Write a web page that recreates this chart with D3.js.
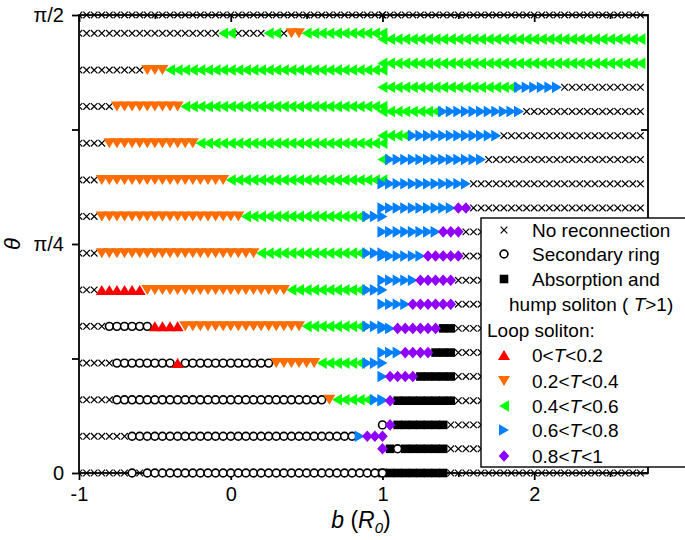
<!DOCTYPE html>
<html><head><meta charset="utf-8">
<script src="https://cdn.jsdelivr.net/npm/d3@7"></script>
<style>body{margin:0;background:#fff}svg{font-family:"Liberation Sans",Arial,sans-serif}</style>
</head><body><svg id="c" width="685" height="540"></svg>
<script>
// ---------------- data ----------------
const xTicks = [-1, 0, 1, 2];
const xMinorTicks = [-0.5, 0.5, 1.5, 2.5];
const yTicks = [0, Math.PI / 8, Math.PI / 4, 3 * Math.PI / 8, Math.PI / 2];
const yTickLabels = ["0", "", "π/4", "", "π/2"];

// codes: x no reconnection, o secondary ring, s absorption/hump (T>1),
// u 0<T<0.2, d 0.2<T<0.4, l 0.4<T<0.6, r 0.6<T<0.8, p 0.8<T<1
// scan 1: b = -1 ... 1 (step 0.05)
const leftScan = { start: -1, step: 0.05 };
const leftTheta = [0, 0.126, 0.251, 0.377, 0.503, 0.628, 0.754, 0.880, 1.005, 1.131, 1.257, 1.382, 1.508, 1.571];
const leftRuns = [
  [["x", 7], ["o", 1], ["x", 1], ["o", 32]],
  [["x", 7], ["o", 30], ["r", 1], ["p", 3]],
  [["x", 5], ["o", 28], ["d", 1], ["l", 5], ["r", 2]],
  [["x", 5], ["o", 8], ["u", 1], ["o", 12], ["d", 6], ["l", 6], ["r", 3]],
  [["x", 4], ["o", 6], ["u", 4], ["d", 16], ["l", 8], ["r", 3]],
  [["x", 3], ["u", 6], ["d", 19], ["l", 10], ["r", 3]],
  [["x", 3], ["d", 21], ["l", 14], ["r", 3]],
  [["x", 3], ["d", 19], ["l", 16], ["r", 3]],
  [["x", 3], ["d", 17], ["l", 21]],
  [["x", 4], ["d", 12], ["l", 25]],
  [["x", 5], ["d", 9], ["l", 27]],
  [["x", 9], ["d", 3], ["l", 29]],
  [["x", 19], ["l", 2], ["x", 4], ["l", 2], ["x", 1], ["d", 2], ["l", 11]],
  [["x", 41]]
];
// scan 2: b = 1 ... 2.7 (step 0.05)
const rightScan = { start: 1.0, step: 0.05 };
const rightTheta = [0, 0.083, 0.165, 0.248, 0.331, 0.413, 0.496, 0.579, 0.661, 0.744, 0.827, 0.909, 0.992, 1.075, 1.157, 1.240, 1.323, 1.405, 1.488, 1.571];
const rightRuns = [
  [["s", 9], ["x", 26]],
  [["p", 1], ["s", 1], ["o", 1], ["s", 6], ["x", 26]],
  [["o", 1], ["p", 1], ["s", 7], ["x", 26]],
  [["r", 1], ["p", 1], ["s", 8], ["x", 25]],
  [["r", 1], ["p", 4], ["s", 5], ["x", 25]],
  [["r", 3], ["p", 4], ["s", 3], ["x", 25]],
  [["r", 2], ["p", 6], ["s", 2], ["x", 25]],
  [["r", 4], ["p", 6], ["x", 25]],
  [["r", 5], ["p", 5], ["x", 25]],
  [["r", 6], ["p", 5], ["x", 24]],
  [["r", 8], ["p", 3], ["x", 24]],
  [["r", 10], ["p", 2], ["x", 23]],
  [["r", 12], ["x", 23]],
  [["l", 1], ["r", 13], ["x", 21]],
  [["l", 4], ["r", 12], ["x", 19]],
  [["l", 8], ["r", 11], ["x", 16]],
  [["l", 18], ["r", 6], ["x", 11]],
  [["l", 35]],
  [["l", 35]],
  [["x", 35]]
];

const legendItems = [
  { code: "x", text: ["No reconnection"] },
  { code: "o", text: ["Secondary ring"] },
  { code: "s", text: ["Absorption and"] },
  { code: null, text: ["hump soliton ( ", "T", ">1)"] },
  { code: null, text: ["Loop soliton:"] },
  { code: "u", text: ["0<", "T", "<0.2"] },
  { code: "d", text: ["0.2<", "T", "<0.4"] },
  { code: "l", text: ["0.4<", "T", "<0.6"] },
  { code: "r", text: ["0.6<", "T", "<0.8"] },
  { code: "p", text: ["0.8<", "T", "<1"] }
];

// ---------------- drawing ----------------
const svg = d3.select("#c");
const x = d3.scaleLinear().domain([-1, 2.75]).range([79, 648]);
const y = d3.scaleLinear().domain([0, Math.PI / 2]).range([473, 15]);

const colors = { x: "none", o: "#fff", s: "#000", u: "#ff0000", d: "#ff6d00", l: "#00ff00", r: "#0080ff", p: "#8f00ff" };
const shapes = {
  x: "M-3.3,-3.3L3.3,3.3M-3.3,3.3L3.3,-3.3",
  u: "M0,-5L6,5L-6,5Z",
  d: "M-6,-5L6,-5L0,5Z",
  l: "M-5,0L5,-5.8L5,5.8Z",
  r: "M5,0L-5,-5.8L-5,5.8Z",
  p: "M0,-5.8L5.3,0L0,5.8L-5.3,0Z",
  s: "M-4.3,-4.3H4.3V4.3H-4.3Z"
};
function marker(g, code) {
  if (code === "o") {
    g.append("circle").attr("r", 3.9).attr("fill", "#fff").attr("stroke", "#000").attr("stroke-width", 1.6);
  } else if (code === "x") {
    g.append("path").attr("d", shapes.x).attr("fill", "none").attr("stroke", "#000").attr("stroke-width", 1.2);
  } else {
    g.append("path").attr("d", shapes[code]).attr("fill", colors[code]);
  }
}

function expand(runsList, thetas, scan) {
  const pts = [];
  runsList.forEach((runs, ri) => {
    let i = 0;
    runs.forEach(([c, n]) => {
      for (let k = 0; k < n; k++) { pts.push({ c, b: scan.start + scan.step * i, t: thetas[ri] }); i++; }
    });
  });
  return pts;
}
const points = expand(leftRuns, leftTheta, leftScan).concat(expand(rightRuns, rightTheta, rightScan));

// frame
const frame = svg.append("g").attr("stroke", "#000").attr("stroke-width", 1.8).attr("fill", "none");
frame.append("rect").attr("x", x(-1)).attr("y", y(Math.PI / 2)).attr("width", x(2.75) - x(-1)).attr("height", y(0) - y(Math.PI / 2));

// axes
const axB = d3.axisBottom(x).tickValues(xTicks).tickSize(7).tickFormat(d3.format("d"));
const axBm = d3.axisBottom(x).tickValues(xMinorTicks).tickSize(4).tickFormat("");
const axT = d3.axisBottom(x).tickValues(xTicks).tickSize(7).tickFormat("");
const axTm = d3.axisBottom(x).tickValues(xMinorTicks).tickSize(4).tickFormat("");
const axL = d3.axisLeft(y).tickValues(yTicks).tickSize(7).tickFormat((d, i) => yTickLabels[i]);
const axR = d3.axisLeft(y).tickValues(yTicks).tickSize(7).tickFormat("");
function styleAxis(g, fs) {
  g.select(".domain").remove();
  g.selectAll(".tick line").attr("stroke", "#000").attr("stroke-width", 1.8);
  g.selectAll(".tick text").attr("fill", "#000").style("font-size", fs + "px").style("font-family", '"Liberation Sans", Arial, sans-serif');
}
const gB = svg.append("g").attr("transform", `translate(0,${y(0)})`).call(axB); styleAxis(gB, 20);
gB.selectAll(".tick text").attr("y", 14).attr("dy", "0.71em").text(d => d < 0 ? "-" + Math.abs(d) : d);
svg.append("g").attr("transform", `translate(0,${y(0)})`).call(axBm).call(g => styleAxis(g, 20));
svg.append("g").attr("transform", `translate(0,${y(Math.PI / 2)})`).call(axT).call(g => styleAxis(g, 20));
svg.append("g").attr("transform", `translate(0,${y(Math.PI / 2)})`).call(axTm).call(g => styleAxis(g, 20));
const gL = svg.append("g").attr("transform", `translate(${x(-1)},0)`).call(axL); styleAxis(gL, 20);
gL.selectAll(".tick text").attr("x", -15);
svg.append("g").attr("transform", `translate(${x(2.75)},0)`).call(axR).call(g => {
  styleAxis(g, 20); g.selectAll(".tick line").attr("x2", -7);
});

// markers
svg.append("clipPath").attr("id", "clip").append("rect").attr("x", x(-1) + 1).attr("y", 0).attr("width", x(2.75) - x(-1) - 1).attr("height", 540);
const mg = svg.append("g").attr("clip-path", "url(#clip)");
["x", "s", "o", "u", "d", "l", "r", "p"].forEach(code => {
  points.filter(p => p.c === code).forEach(p => {
    const g = mg.append("g").attr("transform", `translate(${x(p.b)},${y(p.t)})`);
    marker(g, code);
  });
});

// axis titles
svg.append("text").attr("x", 12).attr("y", 244).attr("text-anchor", "middle").attr("dominant-baseline", "central")
  .attr("transform", "rotate(-90,12,244)").style("font-size", "22px").style("font-style", "italic").text("θ");
const xt = svg.append("text").attr("x", 361).attr("y", 528).attr("text-anchor", "middle").style("font-size", "23px");
xt.append("tspan").style("font-style", "italic").text("b");
xt.append("tspan").text(" (");
xt.append("tspan").style("font-style", "italic").text("R");
xt.append("tspan").style("font-style", "italic").style("font-size", "15px").attr("dy", 5).text("0");
xt.append("tspan").attr("dy", -5).text(")");

// legend
const lg = svg.append("g");
lg.append("rect").attr("x", 481).attr("y", 218).attr("width", 215).attr("height", 249)
  .attr("fill", "#fff").attr("stroke", "#000").attr("stroke-width", 1.4);
const rowsY = [230, 254, 279, 304, 330, 355, 381, 406, 430, 456];
legendItems.forEach((it, i) => {
  const cy = rowsY[i];
  if (it.code) {
    const g = lg.append("g").attr("transform", `translate(504,${cy})`);
    marker(g, it.code);
  }
  const tx = it.code ? 532 : (it.text.length > 1 ? 509 : 487);
  const t = lg.append("text").attr("x", tx).attr("y", cy + 7).style("font-size", "19px");
  it.text.forEach(s => {
    t.append("tspan").style("font-style", s === "T" ? "italic" : "normal").text(s);
  });
});
</script></body></html>
